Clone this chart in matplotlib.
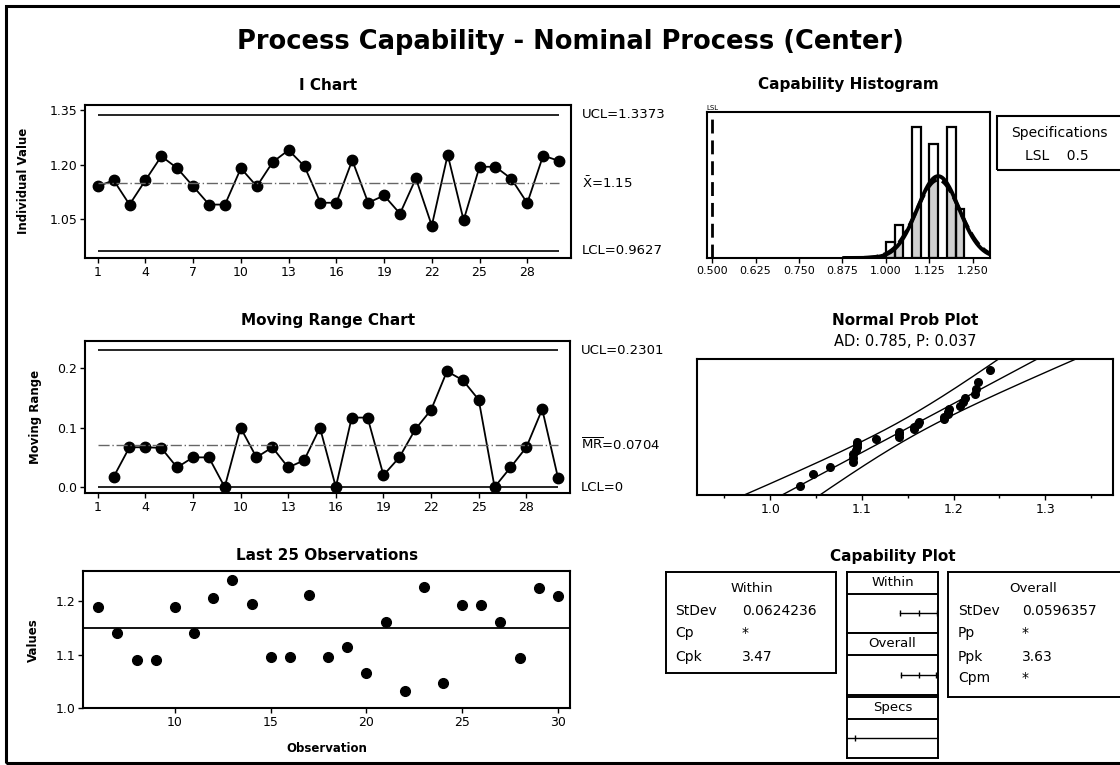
import numpy as np
import matplotlib
matplotlib.use('Agg')
import matplotlib.pyplot as plt
from matplotlib.patches import Rectangle
import matplotlib.transforms as mtransforms
from statistics import NormalDist

# ---------------- data ----------------
observations = list(range(1, 31))
individual_values = [1.140, 1.157, 1.090, 1.157, 1.223, 1.190, 1.140, 1.090, 1.090, 1.190,
                     1.140, 1.207, 1.240, 1.195, 1.095, 1.095, 1.212, 1.095, 1.115, 1.065,
                     1.162, 1.032, 1.227, 1.047, 1.194, 1.194, 1.161, 1.094, 1.225, 1.210]
mr_observations = list(range(2, 31))
moving_ranges = [0.017, 0.067, 0.067, 0.066, 0.033, 0.050, 0.050, 0.000, 0.100, 0.050,
                 0.067, 0.033, 0.045, 0.100, 0.000, 0.117, 0.117, 0.020, 0.050, 0.097,
                 0.130, 0.195, 0.180, 0.147, 0.000, 0.033, 0.067, 0.131, 0.015]
i_ucl, i_center, i_lcl = 1.3373, 1.15, 0.9627
mr_ucl, mr_center, mr_lcl = 0.2301, 0.0704, 0.0
hist_bin_left = [1.000, 1.025, 1.075, 1.125, 1.175, 1.200]
hist_counts = [1, 2, 8, 7, 8, 3]
hist_bin_width = 0.025
lsl = 0.5
stdev_within = 0.0624236
stdev_overall = 0.0596357
process_mean = 1.15
i_xticks = [1, 4, 7, 10, 13, 16, 19, 22, 25, 28]
hist_ticks = [0.500, 0.625, 0.750, 0.875, 1.000, 1.125, 1.250]
prob_ticks = [1.0, 1.1, 1.2, 1.3]
within_rows = [("StDev", "0.0624236"), ("Cp", "*"), ("Cpk", "3.47")]
overall_rows = [("StDev", "0.0596357"), ("Pp", "*"), ("Ppk", "3.63"), ("Cpm", "*")]

# ---------------- figure setup ----------------
plt.rcParams['font.family'] = ['DejaVu Sans']
plt.rcParams['mathtext.fontset'] = 'dejavusans'
W, H = 1120, 765
fig = plt.figure(figsize=(11.2, 7.65), dpi=100)


def px_axes(x0, y0, x1, y1):
    return fig.add_axes([x0 / W, 1 - y1 / H, (x1 - x0) / W, (y1 - y0) / H])


def ftext(x, y, s, **kw):
    kw.setdefault('ha', 'center')
    kw.setdefault('va', 'center')
    fig.text(x / W, 1 - y / H, s, **kw)


def style(ax, lw=1.5):
    for sp in ax.spines.values():
        sp.set_linewidth(lw)
        sp.set_color('black')
    ax.tick_params(direction='out', length=3.5, width=1, labelsize=9, pad=2)


# outer frame
fig.add_artist(Rectangle((6 / W, 1 - 763 / H), (1135 - 6) / W, (763 - 6) / H,
                         transform=fig.transFigure, fill=False, lw=2.2, color='black'))

ftext(570, 42, "Process Capability - Nominal Process (Center)", fontsize=18.5, fontweight='bold')

# ---------------- I chart ----------------
ax = px_axes(85, 105, 571, 258)
style(ax)
ax.plot(observations, individual_values, '-o', color='black', lw=1.3, ms=7.5)
ax.hlines([i_ucl, i_lcl], observations[0], observations[-1], colors='black', lw=1.2)
ax.hlines(i_center, observations[0], observations[-1], colors='#666666', lw=1.0,
          linestyles=(0, (8, 2, 1, 2)))
ax.set_xlim(0.2, 30.75)
ax.set_ylim(0.943, 1.364)
ax.set_xticks(i_xticks)
ax.set_yticks([1.05, 1.20, 1.35])
ax.set_yticklabels(["1.05", "1.20", "1.35"])
tr = mtransforms.blended_transform_factory(ax.transAxes, ax.transData)
ax.text(1.023, i_ucl, "UCL=1.3373", transform=tr, va='center', fontsize=9.5)
ax.text(1.023, i_center, r"$\bar{\mathrm{X}}$=1.15", transform=tr, va='center', fontsize=9.5)
ax.text(1.023, i_lcl, "LCL=0.9627", transform=tr, va='center', fontsize=9.5)
ftext(328, 85, "I Chart", fontsize=11, fontweight='bold')
ftext(24, 181, "Individual Value", fontsize=8.5, fontweight='bold', rotation=90)

# ---------------- Moving range chart ----------------
ax = px_axes(85, 341, 570, 493)
style(ax)
ax.plot(mr_observations, moving_ranges, '-o', color='black', lw=1.3, ms=7.5)
ax.hlines([mr_ucl, mr_lcl], observations[0], observations[-1], colors='black', lw=1.2)
ax.hlines(mr_center, observations[0], observations[-1], colors='#666666', lw=1.0,
          linestyles=(0, (8, 2, 1, 2)))
ax.set_xlim(0.2, 30.75)
ax.set_ylim(-0.010, 0.246)
ax.set_xticks(i_xticks)
ax.set_yticks([0.0, 0.1, 0.2])
ax.set_yticklabels(["0.0", "0.1", "0.2"])
tr = mtransforms.blended_transform_factory(ax.transAxes, ax.transData)
ax.text(1.023, mr_ucl, "UCL=0.2301", transform=tr, va='center', fontsize=9.5)
ax.text(1.023, mr_center, r"$\overline{\mathrm{MR}}$=0.0704", transform=tr, va='center', fontsize=9.5)
ax.text(1.023, mr_lcl, "LCL=0", transform=tr, va='center', fontsize=9.5)
ftext(328, 320, "Moving Range Chart", fontsize=11, fontweight='bold')
ftext(35, 417, "Moving Range", fontsize=8.5, fontweight='bold', rotation=90)

# ---------------- Last 25 observations ----------------
ax = px_axes(83, 571, 570, 708)
style(ax)
last_obs = observations[-25:]
last_vals = individual_values[-25:]
ax.plot(last_obs, last_vals, 'o', color='black', ms=7)
ax.axhline(i_center, color='black', lw=1.3)
ax.set_xlim(5.2, 30.63)
ax.set_ylim(1.0, 1.257)
ax.set_xticks([10, 15, 20, 25, 30])
ax.set_yticks([1.0, 1.1, 1.2])
ax.set_yticklabels(["1.0", "1.1", "1.2"])
ftext(327, 555, "Last 25 Observations", fontsize=11, fontweight='bold')
ftext(33, 640, "Values", fontsize=8.5, fontweight='bold', rotation=90)
ftext(327, 748, "Observation", fontsize=8.5, fontweight='bold')

# ---------------- Capability histogram ----------------
ax = px_axes(707, 112, 990, 258)
style(ax)
xs = np.linspace(0.88, 1.30, 400)
nd_over = NormalDist(process_mean, stdev_overall)
nd_within = NormalDist(process_mean, stdev_within)
scale = len(individual_values) * hist_bin_width
curve_over = np.array([nd_over.pdf(v) for v in xs]) * scale
curve_within = np.array([nd_within.pdf(v) for v in xs]) * scale
for left, cnt in zip(hist_bin_left, hist_counts):
    m = (xs >= left) & (xs <= left + hist_bin_width)
    ax.fill_between(xs[m], 0, np.minimum(curve_over[m], cnt), color='#cfcfcf', lw=0)
ax.bar(hist_bin_left, hist_counts, width=hist_bin_width, align='edge',
       facecolor='none', edgecolor='black', lw=1.6)
ax.plot(xs, curve_within, color='black', lw=2.6, ls=(0, (4, 1.5)))
ax.plot(xs, curve_over, color='black', lw=2.8)
ax.axvline(lsl, color='black', lw=2, ls=(0, (5, 2.5)))
ax.set_xlim(0.4856, 1.299)
ax.set_ylim(0, 8.95)
ax.set_yticks([])
ax.set_xticks(hist_ticks)
ax.set_xticklabels([f"{t:.3f}" for t in hist_ticks])
ax.tick_params(axis='x', labelsize=8)
ax.text(lsl, 1.01, "LSL", transform=mtransforms.blended_transform_factory(ax.transData, ax.transAxes),
        ha='center', va='bottom', fontsize=5)
ftext(848, 85, "Capability Histogram", fontsize=11, fontweight='bold')

# specifications box
fig.add_artist(Rectangle((997 / W, 1 - 170 / H), (1140 - 997) / W, (170 - 116) / H,
                         transform=fig.transFigure, fill=False, lw=1.5, color='black'))
ftext(1059, 133, "Specifications", fontsize=10)
ftext(1057, 156, "LSL    0.5", fontsize=10)

# ---------------- Normal probability plot ----------------
ax = px_axes(697, 359, 1113, 495)
style(ax)
n = len(individual_values)
sorted_vals = np.sort(individual_values)
std_norm = NormalDist()
zscores = np.array([std_norm.inv_cdf((i - 0.3) / (n + 0.4)) for i in range(1, n + 1)])
zz = np.linspace(-2.6, 2.6, 200)
fit = process_mean + stdev_overall * zz
hw = 1.96 * stdev_overall * np.sqrt(1.0 / n + zz ** 2 / (2 * (n - 1)))
ax.plot(fit, zz, color='black', lw=1.0)
ax.plot(fit - hw, zz, color='black', lw=1.0)
ax.plot(fit + hw, zz, color='black', lw=1.0)
ax.plot(sorted_vals, zscores, 'o', color='black', ms=5.5)
ax.set_xlim(0.92, 1.374)
ax.set_ylim(-2.3, 2.37)
ax.set_yticks([])
ax.set_xticks(prob_ticks)
ax.set_xticklabels([f"{t:.1f}" for t in prob_ticks])
ax.set_xticks([0.95, 1.05, 1.15, 1.25, 1.35], minor=True)
ax.tick_params(axis='x', which='minor', length=2.5, width=1, direction='out')
ftext(905, 320, "Normal Prob Plot", fontsize=11, fontweight='bold')
ftext(905, 342, "AD: 0.785, P: 0.037", fontsize=10.5)

# ---------------- Capability plot ----------------
ftext(893, 557, "Capability Plot", fontsize=11, fontweight='bold')

# within box
bx = px_axes(666, 572, 836, 673)
style(bx, 1.4)
bx.set_xticks([]); bx.set_yticks([])
ftext(752, 589, "Within", fontsize=9.5)
for (lab, val), yy in zip(within_rows, [611, 633, 657]):
    ftext(675, yy, lab, fontsize=10, ha='left')
    ftext(742, yy, val, fontsize=10, ha='left')

# overall box
bx = px_axes(948, 572, 1140, 697)
style(bx, 1.4)
bx.set_xticks([]); bx.set_yticks([])
ftext(1033, 589, "Overall", fontsize=9.5)
for (lab, val), yy in zip(overall_rows, [611, 633, 657, 678]):
    ftext(958, yy, lab, fontsize=10, ha='left')
    ftext(1022, yy, val, fontsize=10, ha='left')

# middle interval column
mid_boxes = [(572, 633, "Within", stdev_within),
             (633, 695, "Overall", stdev_overall),
             (697, 758, "Specs", None)]
for top, bot, label, sd in mid_boxes:
    mx = px_axes(847, top, 938, bot)
    style(mx, 1.4)
    mx.set_xticks([]); mx.set_yticks([])
    mx.set_xlim(0.418, 1.347)
    mx.set_ylim(0, 1)
    mx.axhline(0.64, color='black', lw=1.4)
    mx.text(0.5, 0.83, label, transform=mx.transAxes, ha='center', va='center', fontsize=9.5)
    if sd is not None:
        pts = [process_mean - 3 * sd, process_mean, process_mean + 3 * sd]
        mx.plot(pts, [0.33] * 3, '-', color='black', lw=1, marker='|', ms=5, mew=1)
    else:
        mx.axhline(0.33, color='black', lw=1)
        mx.plot([lsl], [0.33], marker='|', color='black', ms=5, mew=1)

fig.savefig("out.png", dpi=100)
